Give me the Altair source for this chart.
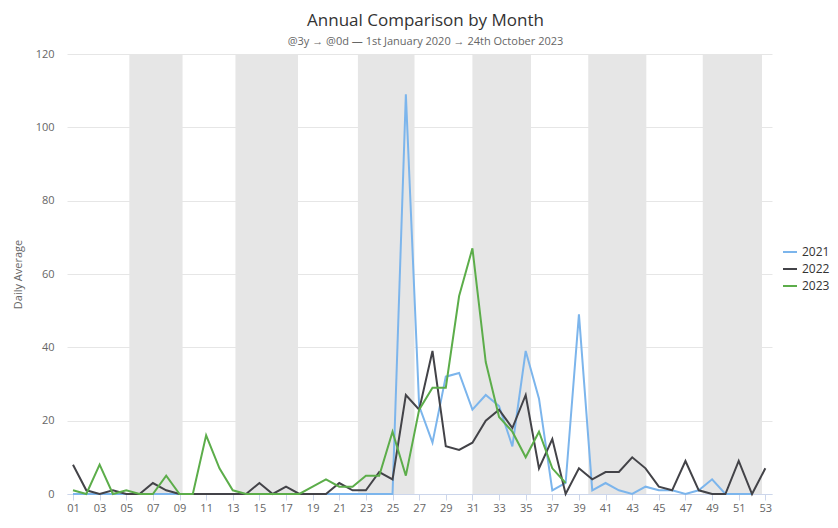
import altair as alt
import pandas as pd

weeks = [1, 2, 3, 4, 5, 6, 7, 8, 9, 10, 11, 12, 13, 14, 15, 16, 17, 18, 19, 20,
         21, 22, 23, 24, 25, 26, 27, 28, 29, 30, 31, 32, 33, 34, 35, 36, 37, 38, 39, 40,
         41, 42, 43, 44, 45, 46, 47, 48, 49, 50, 51, 52, 53]

y2021 = [0, 0, 0, 0, 0, 0, 0, 0, 0, 0, 0, 0, 0, 0, 0, 0, 0, 0, 0, 0,
         0, 0, 0, 0, 0, 109, 24, 14, 32, 33, 23, 27, 24, 13, 39, 26, 1, 3, 49, 1,
         3, 1, 0, 2, 1, 1, 0, 1, 4, 0, 0, 0, None]
y2022 = [8, 1, 0, 1, 0, 0, 3, 1, 0, 0, 0, 0, 0, 0, 3, 0, 2, 0, 0, 0,
         3, 1, 1, 6, 4, 27, 23, 39, 13, 12, 14, 20, 23, 18, 27, 7, 15, 0, 7, 4,
         6, 6, 10, 7, 2, 1, 9, 1, 0, 0, 9, 0, 7]
y2023 = [1, 0, 8, 0, 1, 0, 0, 5, 0, 0, 16, 7, 1, 0, 0, 0, 0, 0, 2, 4,
         2, 2, 5, 5, 17, 5, 23, 29, 29, 54, 67, 36, 21, 17, 10, 17, 7, 3]

series_names = ["2021", "2022", "2023"]
series_colors = ["#7cb5ec", "#434348", "#5cad4a"]

# alternate-month shading, in week units
band_start = [5.23, 13.2, 22.4, 31.0, 39.7, 48.3]
band_end = [9.23, 17.9, 26.65, 35.4, 44.06, 52.75]

x_ticks = [1, 3, 5, 7, 9, 11, 13, 15, 17, 19, 21, 23, 25, 27, 29, 31, 33, 35, 37, 39,
           41, 43, 45, 47, 49, 51, 53]
y_ticks = [0, 20, 40, 60, 80, 100, 120]

rows = []
for name, vals in zip(series_names, [y2021, y2022, y2023]):
    for w, v in zip(weeks, vals):
        if v is not None:
            rows.append({"week": w, "year": name, "value": v})
df = pd.DataFrame(rows)
bands = pd.DataFrame({"start": band_start, "end": band_end})

FONT = "Open Sans"
W, H = 705, 440

xscale = alt.Scale(domain=[0.55, 53.5], nice=False, zero=False)
yscale = alt.Scale(domain=[0, 120], nice=False)

x_axis = alt.Axis(values=x_ticks, grid=False, title=None, labelOverlap=False,
                  labelExpr="datum.value < 10 ? '0' + datum.value : '' + datum.value",
                  domainColor="#ccd6eb", tickColor="#ccd6eb", tickSize=6,
                  labelFontSize=11, labelColor="#666666", labelPadding=2,
                  labelFont=FONT)

band_layer = alt.Chart(bands).mark_rect(color="#e6e6e6").encode(
    x=alt.X("start:Q", scale=xscale, axis=x_axis),
    x2="end:Q",
    y=alt.datum(120, scale=yscale),
    y2=alt.datum(0),
)

line_layer = alt.Chart(df).mark_line(strokeWidth=2).encode(
    x=alt.X("week:Q", scale=xscale, axis=x_axis),
    y=alt.Y("value:Q", scale=yscale,
            axis=alt.Axis(values=y_ticks, grid=True, gridColor="#e6e6e6",
                          domain=False, ticks=False, labelPadding=13,
                          labelFontSize=11, labelColor="#666666", labelFont=FONT,
                          title="Daily Average", titleFontSize=11, titleColor="#666666",
                          titleFont=FONT, titleFontWeight="normal", titlePadding=12)),
    color=alt.Color("year:N",
                    scale=alt.Scale(domain=series_names, range=series_colors),
                    legend=alt.Legend(title=None, orient="none", legendX=715, legendY=190,
                                      symbolType="stroke", symbolSize=196,
                                      symbolStrokeWidth=2, labelFontSize=12,
                                      labelColor="#333333", labelFont=FONT,
                                      rowPadding=3, labelOffset=4)),
)

chart = alt.layer(band_layer, line_layer).properties(
    width=W, height=H,
    padding={"left": 59, "top": 46, "right": 58, "bottom": 22},
    autosize=alt.AutoSizeParams(type="none"),
    title=alt.TitleParams(
        text="Annual Comparison by Month",
        subtitle="@3y → @0d   —   1st January 2020 → 24th October 2023",
        fontSize=17, font=FONT, color="#333333", fontWeight="normal",
        subtitleFontSize=11, subtitleFont=FONT, subtitleColor="#666666",
        subtitlePadding=6, anchor="middle", offset=0, dx=6,
    ),
).configure_view(stroke=None).configure_axisX(labelOverlap=False)

chart.save("out.html", embed_options={"renderer": "svg", "actions": False})
